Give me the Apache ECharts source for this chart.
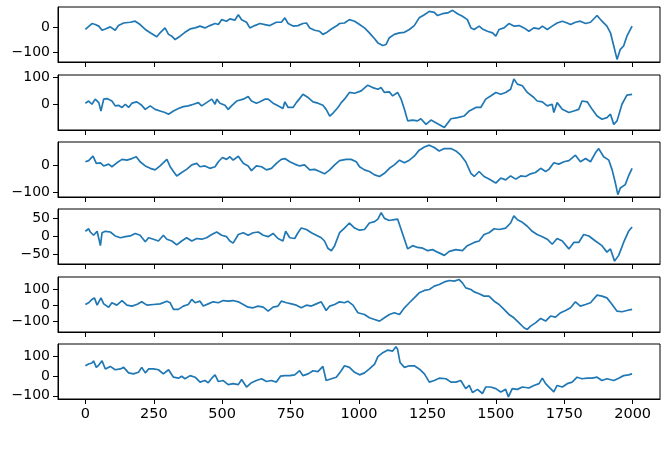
<!DOCTYPE html>
<html>
<head>
<meta charset="utf-8">
<script src="https://cdn.jsdelivr.net/npm/echarts@6.0.0/dist/echarts.min.js"></script>
<style>
  html, body { margin: 0; padding: 0; background: #fff; }
  #main { width: 667px; height: 467px; }
</style>
</head>
<body>
<div id="main"></div>
<script>
// tick labels
const xTicks = [0, 250, 500, 750, 1000, 1250, 1500, 1750, 2000];
const yTicks1 = [-100, 0];
const yTicks2 = [0, 100];
const yTicks3 = [-100, 0];
const yTicks4 = [-50, 0, 50];
const yTicks5 = [-100, 0, 100];
const yTicks6 = [-100, 0, 100];

// series values, [step, value]
const s1 = [[0,-10],[24,13],[36,9],[49,3],[61,-13],[73,-8],[91,0],[109,-13],[121,5],[140,15],[164,18],[182,22],[188,28],[200,9],[219,-10],[237,-23],[261,-38],[273,-23],[291,-4],[304,-29],[316,-36],[328,-49],[346,-36],[364,-21],[383,-8],[401,-4],[419,3],[437,-4],[455,5],[474,13],[486,9],[498,28],[516,22],[528,31],[546,26],[559,47],[571,28],[589,18],[601,-4],[619,5],[638,13],[656,9],[674,5],[698,18],[716,18],[729,35],[741,13],[759,3],[777,5],[795,13],[808,15],[820,-4],[838,-13],[856,-17],[868,-29],[880,-23],[899,-8],[917,3],[929,13],[947,15],[965,28],[984,22],[1002,9],[1020,-4],[1038,-23],[1057,-46],[1069,-62],[1087,-72],[1099,-68],[1111,-42],[1129,-29],[1148,-23],[1166,-21],[1184,-10],[1202,5],[1220,35],[1239,47],[1257,60],[1275,56],[1287,44],[1305,51],[1324,54],[1342,64],[1360,51],[1378,41],[1396,28],[1409,-4],[1421,-10],[1439,3],[1451,-8],[1469,-17],[1488,-23],[1500,-36],[1512,-10],[1530,-4],[1548,13],[1566,3],[1585,5],[1603,-4],[1621,-17],[1639,-4],[1658,-8],[1670,3],[1688,-10],[1706,3],[1724,15],[1743,22],[1761,15],[1773,9],[1791,18],[1809,22],[1828,13],[1846,18],[1870,44],[1888,22],[1906,3],[1919,-23],[1931,-74],[1943,-126],[1955,-87],[1967,-74],[1979,-36],[1998,3]];

const s2 = [[0,4],[12,12],[24,0],[36,19],[49,6],[57,-25],[67,19],[79,21],[97,12],[109,-6],[121,-4],[134,-12],[146,0],[158,-12],[170,4],[188,9],[206,-4],[219,-19],[237,-6],[255,-19],[273,-25],[291,-31],[304,-37],[322,-25],[340,-16],[358,-9],[376,-6],[395,0],[413,6],[425,-6],[443,6],[462,19],[474,0],[480,19],[492,4],[510,-4],[522,-19],[534,-6],[553,12],[577,19],[595,29],[607,12],[625,4],[638,9],[656,19],[668,19],[686,4],[704,-6],[722,-16],[729,9],[741,-12],[759,-12],[771,6],[783,21],[795,37],[814,25],[832,9],[850,4],[868,-4],[880,-19],[893,-44],[907,-31],[923,-12],[935,6],[947,19],[965,44],[984,41],[1008,50],[1032,71],[1050,62],[1069,56],[1081,62],[1093,44],[1111,46],[1123,31],[1141,44],[1154,19],[1166,-19],[1178,-62],[1196,-59],[1214,-62],[1226,-54],[1245,-75],[1263,-59],[1281,-69],[1312,-87],[1336,-54],[1360,-50],[1384,-44],[1403,-25],[1427,-12],[1445,-12],[1463,19],[1481,31],[1500,44],[1518,37],[1536,44],[1554,56],[1566,94],[1579,75],[1597,69],[1615,44],[1639,25],[1651,12],[1670,9],[1688,-6],[1706,0],[1712,-31],[1724,6],[1743,-19],[1767,-31],[1785,-25],[1803,-19],[1815,12],[1834,9],[1852,-19],[1870,-44],[1888,-56],[1906,-50],[1919,-37],[1931,-75],[1943,-62],[1961,0],[1979,34],[1998,37]];

const s3 = [[0,15],[12,19],[28,36],[40,9],[55,11],[67,-1],[85,6],[97,-4],[115,11],[134,24],[152,21],[170,27],[186,34],[200,15],[219,-1],[237,-10],[255,-16],[273,-1],[298,24],[310,-4],[322,-22],[334,-39],[352,-26],[370,-14],[389,3],[407,9],[419,-4],[437,-1],[455,-10],[474,-4],[486,15],[501,31],[516,24],[528,34],[540,21],[559,36],[577,9],[595,-1],[607,-19],[625,-1],[644,-4],[662,-16],[680,-10],[698,9],[716,24],[729,27],[747,15],[765,6],[783,-1],[801,3],[820,-16],[838,-14],[856,-22],[874,-31],[893,-16],[911,3],[929,19],[953,24],[971,24],[990,15],[1002,-4],[1020,-16],[1038,-22],[1057,-35],[1075,-41],[1093,-29],[1111,-10],[1129,3],[1148,21],[1166,11],[1184,21],[1202,36],[1220,59],[1239,71],[1257,78],[1275,69],[1293,56],[1312,65],[1336,65],[1354,56],[1372,40],[1390,15],[1409,-29],[1421,-41],[1439,-22],[1457,-41],[1475,-51],[1500,-66],[1518,-47],[1536,-54],[1554,-39],[1573,-51],[1591,-39],[1609,-41],[1627,-31],[1645,-26],[1664,-10],[1682,-22],[1694,-14],[1712,11],[1730,6],[1749,15],[1767,19],[1791,40],[1809,15],[1828,27],[1846,15],[1864,49],[1876,65],[1894,34],[1913,21],[1925,-16],[1937,-66],[1946,-110],[1955,-85],[1973,-72],[1985,-39],[1998,-10]];

const s4 = [[0,14],[12,21],[18,12],[30,3],[43,14],[55,-26],[61,10],[73,14],[91,12],[109,1],[128,-4],[146,-1],[164,1],[182,8],[200,3],[219,-15],[231,-4],[249,-8],[267,-13],[285,3],[298,-8],[316,-13],[334,-24],[352,-13],[370,-4],[389,-13],[407,-6],[425,-8],[443,-4],[462,5],[480,12],[498,3],[516,-1],[528,-13],[540,-19],[559,5],[577,10],[595,3],[613,10],[632,12],[650,3],[668,-1],[686,8],[704,-6],[722,-13],[732,14],[747,-4],[765,-6],[777,10],[789,23],[808,19],[826,10],[844,3],[862,-4],[874,-13],[886,-33],[899,-40],[911,-26],[929,10],[947,23],[965,37],[984,23],[1002,17],[1020,19],[1038,37],[1057,41],[1069,48],[1081,66],[1093,50],[1111,44],[1123,46],[1141,48],[1154,19],[1166,-8],[1178,-35],[1196,-26],[1214,-31],[1233,-33],[1251,-40],[1269,-37],[1287,-44],[1312,-53],[1330,-42],[1354,-37],[1378,-40],[1396,-26],[1421,-17],[1439,-13],[1457,5],[1475,10],[1494,21],[1512,19],[1536,23],[1554,37],[1566,57],[1579,46],[1597,39],[1615,28],[1633,14],[1651,5],[1670,-1],[1688,-8],[1706,-22],[1724,-6],[1743,-13],[1767,-35],[1785,-17],[1803,-17],[1821,5],[1840,1],[1864,-13],[1888,-26],[1906,-44],[1919,-35],[1934,-69],[1949,-53],[1967,-17],[1985,14],[1998,26]];

const s5 = [[0,4],[12,15],[24,36],[33,46],[43,0],[57,46],[67,8],[85,-13],[97,15],[115,0],[134,29],[152,0],[170,-6],[188,4],[206,21],[225,0],[249,4],[273,8],[298,25],[310,15],[322,-27],[340,-27],[358,-6],[376,4],[389,36],[401,15],[419,25],[431,-6],[449,8],[467,21],[486,15],[504,29],[522,25],[540,29],[559,21],[577,4],[595,-13],[613,-17],[631,-6],[650,-13],[668,-38],[686,-13],[704,-6],[716,25],[735,15],[753,8],[771,0],[789,-17],[808,0],[826,-6],[844,8],[862,21],[880,-34],[893,-6],[911,4],[929,21],[947,15],[959,25],[978,0],[996,-48],[1020,-59],[1038,-80],[1057,-91],[1075,-101],[1093,-80],[1111,-59],[1129,-48],[1148,-59],[1166,-17],[1184,15],[1202,46],[1220,78],[1239,93],[1257,99],[1275,120],[1293,131],[1312,147],[1330,156],[1348,152],[1366,162],[1378,141],[1390,109],[1409,99],[1421,84],[1439,72],[1457,57],[1475,57],[1494,25],[1512,4],[1530,-27],[1548,-59],[1566,-80],[1585,-112],[1603,-143],[1615,-154],[1627,-133],[1645,-112],[1664,-84],[1682,-101],[1700,-69],[1718,-76],[1737,-48],[1755,-34],[1773,-17],[1791,21],[1809,-6],[1828,4],[1846,15],[1870,63],[1888,57],[1906,46],[1925,4],[1943,-38],[1961,-42],[1979,-34],[1998,-27]];

const s6 = [[0,53],[12,62],[24,67],[30,78],[40,45],[49,57],[61,78],[73,37],[91,50],[109,33],[128,37],[140,45],[158,17],[176,12],[194,20],[206,45],[219,17],[231,37],[249,37],[267,33],[285,12],[304,33],[322,-5],[340,-10],[352,0],[364,-13],[383,3],[401,-5],[419,-30],[437,-22],[449,-33],[462,-10],[474,7],[486,-27],[504,-22],[522,-43],[540,-38],[559,-43],[571,-17],[589,-55],[607,-33],[625,-22],[644,-13],[662,-27],[680,-22],[698,-30],[713,0],[729,3],[747,3],[765,7],[783,28],[795,3],[814,12],[832,28],[850,23],[868,50],[880,-22],[899,-13],[917,-5],[935,28],[947,53],[965,45],[984,20],[1002,7],[1020,17],[1038,37],[1057,62],[1069,100],[1087,120],[1105,133],[1123,128],[1135,150],[1141,137],[1150,70],[1166,45],[1184,53],[1202,53],[1220,37],[1239,12],[1257,-30],[1275,-22],[1293,-10],[1318,-13],[1336,-30],[1354,-30],[1372,-22],[1390,-63],[1403,-47],[1415,-83],[1433,-67],[1451,-88],[1463,-55],[1481,-55],[1500,-63],[1518,-80],[1536,-67],[1546,-105],[1560,-63],[1579,-67],[1597,-55],[1621,-60],[1639,-47],[1658,-38],[1670,-10],[1682,-38],[1700,-63],[1712,-80],[1724,-47],[1743,-55],[1761,-38],[1779,-30],[1797,-5],[1815,-13],[1834,-10],[1852,-10],[1870,-5],[1888,-22],[1906,-13],[1931,-22],[1949,-10],[1967,3],[1985,7],[1998,12]];

const series = [s1, s2, s3, s4, s5, s6];
const yTicks = [yTicks1, yTicks2, yTicks3, yTicks4, yTicks5, yTicks6];
const yLimits = [[-136, 77], [-96, 109], [-119, 90], [-77, 76], [-170, 178], [-116, 164]];

const chart = echarts.init(document.getElementById('main'), null, { renderer: 'canvas' });

const tops = [7, 75, 142, 209, 277, 344];
const fmt = v => (v < 0 ? '\u2212' + (-v) : String(v));

const grids = [], xAxes = [], yAxes = [], lines = [];
series.forEach((data, i) => {
  const last = i === series.length - 1;
  grids.push({
    left: 58, right: 7, top: tops[i], height: 55,
    show: true, borderColor: '#000', borderWidth: 1, backgroundColor: 'transparent'
  });
  xAxes.push({
    type: 'value', gridIndex: i, min: -100, max: 2100,
    axisLine: { show: true, onZero: false, lineStyle: { color: '#000', width: 1 } },
    axisTick: { show: true, inside: false, length: 5, customValues: xTicks, lineStyle: { color: '#000' } },
    axisLabel: {
      show: last, customValues: xTicks, margin: 8, formatter: fmt,
      color: '#000', fontSize: 14.5, fontFamily: 'DejaVu Sans'
    },
    splitLine: { show: false }
  });
  yAxes.push({
    type: 'value', gridIndex: i, min: yLimits[i][0], max: yLimits[i][1],
    axisLine: { show: true, onZero: false, lineStyle: { color: '#000', width: 1 } },
    axisTick: { show: true, inside: false, length: 5, customValues: yTicks[i], lineStyle: { color: '#000' } },
    axisLabel: {
      customValues: yTicks[i], margin: 8, formatter: fmt,
      color: '#000', fontSize: 14, fontFamily: 'DejaVu Sans'
    },
    splitLine: { show: false }
  });
  lines.push({
    type: 'line', xAxisIndex: i, yAxisIndex: i, data: data,
    showSymbol: false, silent: true,
    lineStyle: { color: '#1f77b4', width: 1.7 }
  });
});

chart.setOption({
  animation: false,
  backgroundColor: '#fff',
  grid: grids,
  xAxis: xAxes,
  yAxis: yAxes,
  series: lines
});
</script>
</body>
</html>
